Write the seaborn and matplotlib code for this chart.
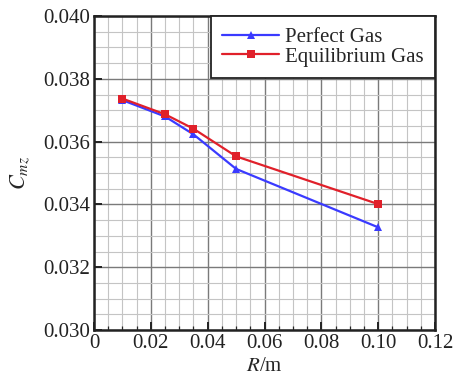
import matplotlib
matplotlib.use("Agg")
import matplotlib.pyplot as plt
from matplotlib.ticker import MultipleLocator, FormatStrFormatter
import seaborn as sns
import pandas as pd

R = [0.01, 0.025, 0.035, 0.05, 0.10]
perfect_gas = [0.03732, 0.03680, 0.03623, 0.03513, 0.03327]
equilibrium_gas = [0.03737, 0.03687, 0.03641, 0.03553, 0.03401]
series_names = ["Perfect Gas", "Equilibrium Gas"]
x_ticks = [0, 0.02, 0.04, 0.06, 0.08, 0.10, 0.12]
x_tick_labels = ["0", "0.02", "0.04", "0.06", "0.08", "0.10", "0.12"]
y_ticks = [0.030, 0.032, 0.034, 0.036, 0.038, 0.040]

df = pd.DataFrame({
    "R": R * 2,
    "Cmz": perfect_gas + equilibrium_gas,
    "series": [series_names[0]] * len(R) + [series_names[1]] * len(R),
})

sns.set_style("white")
plt.rcParams["font.family"] = ["Liberation Serif", "DejaVu Serif"]
plt.rcParams["mathtext.fontset"] = "stix"

fig = plt.figure(figsize=(4.57, 3.78), dpi=100)
ax = fig.add_axes([94 / 457, 48 / 378, (435 - 94) / 457, (330 - 16) / 378])

sns.lineplot(data=df, x="R", y="Cmz", hue="series", style="series",
             palette={series_names[0]: "#3a3aff", series_names[1]: "#e0202a"},
             markers={series_names[0]: "^", series_names[1]: "s"},
             dashes=False, markersize=6, markeredgewidth=0, linewidth=1.6,
             ax=ax, sort=False)

ax.set_xlim(0, 0.12)
ax.set_ylim(0.030, 0.040)
ax.set_xticks(x_ticks)
ax.set_xticklabels(x_tick_labels)
ax.set_yticks(y_ticks)
ax.yaxis.set_major_formatter(FormatStrFormatter("%.3f"))
ax.xaxis.set_minor_locator(MultipleLocator(0.005))
ax.yaxis.set_minor_locator(MultipleLocator(0.0005))

ax.grid(which="major", color="#7a7a7a", linewidth=1.0)
ax.grid(which="minor", color="#c4c4c4", linewidth=0.8)
ax.set_axisbelow(True)

ax.tick_params(which="major", direction="in", length=6, width=1.4, labelsize=15,
               bottom=True, left=True, top=False, right=False, colors="#222222", pad=3)
ax.tick_params(which="minor", direction="in", length=3, width=0.9,
               bottom=True, left=False, top=False, right=False)
for s in ax.spines.values():
    s.set_color("#222222")
    s.set_linewidth(1.8)

ax.set_xlabel(r"$R$/m", fontsize=15, labelpad=3)
ax.set_ylabel(r"$C_{mz}$", fontsize=16, labelpad=8)

leg = ax.legend(loc="upper right", fontsize=15, frameon=True, fancybox=False,
                edgecolor="#222222", borderaxespad=0, handlelength=2.7,
                borderpad=0.55, labelspacing=0.0, handletextpad=0.3)
leg.get_frame().set_linewidth(1.3)
leg.get_frame().set_alpha(1)

fig.savefig("out.png", dpi=100)
